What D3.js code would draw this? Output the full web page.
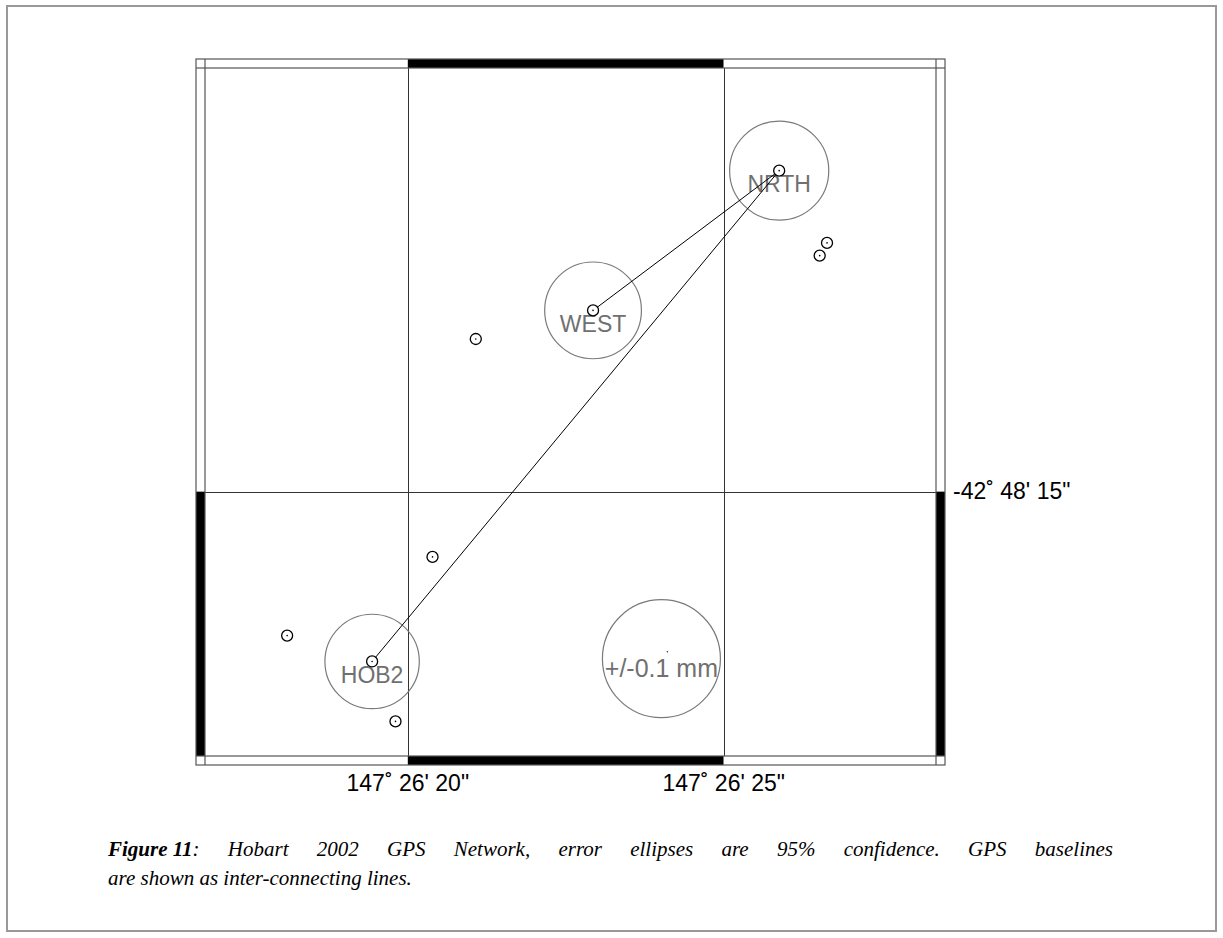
<!DOCTYPE html>
<html>
<head>
<meta charset="utf-8">
<script src="https://cdn.jsdelivr.net/npm/d3@7"></script>
<style>
  html, body { margin: 0; padding: 0; background: #fff; }
  svg { display: block; }
</style>
</head>
<body>
<svg id="fig" width="1223" height="938"></svg>
<script>
// Seconds of arc past 147°26' E (longitude) and past 42°48' S (latitude)
const lonDomain = [16.79, 28.36];
const latDomain = [10.08, 18.07];
const lonTicks = [20, 25];
const latTicks = [15];
const lonTickLabels = ["147˚ 26' 20\"", "147˚ 26' 25\""];
const latTickLabels = ["-42˚ 48' 15\""];

// Labelled stations with 95% error circle radius (mm)
const stationNames = ["NRTH", "WEST", "HOB2"];
const stationLon = [25.878, 22.932, 19.435];
const stationLat = [11.272, 12.895, 16.972];
const stationErr = [0.084, 0.082, 0.080];

// Other survey marks in the network
const markLon = [26.635, 26.519, 21.076, 20.391, 18.090, 19.805];
const markLat = [12.111, 12.259, 13.227, 15.758, 16.672, 17.668];

// GPS baselines between stations
const baselines = [["NRTH", "WEST"], ["NRTH", "HOB2"]];

// Scale ellipse
const scaleErr = 0.1;
const scaleLon = 24.014;
const scaleLat = 16.94;
const scaleLabel = "+/-0.1 mm";

const captionBold = "Figure\u00a011";
const captionLine1 = ": Hobart 2002 GPS Network, error ellipses are 95% confidence. GPS baselines";
const captionLine2 = "are shown as inter-connecting lines.";

const svg = d3.select("#fig");

// page border
svg.append("rect")
  .attr("x", 7).attr("y", 6).attr("width", 1209).attr("height", 925)
  .attr("fill", "none").attr("stroke", "#999").attr("stroke-width", 2);

const x = d3.scaleLinear().domain(lonDomain).range([205, 936]);
const y = d3.scaleLinear().domain(latDomain).range([68, 756]);
const r = d3.scaleLinear().domain([0, scaleErr]).range([0, 59]);
const band = 9;

const [x0, x1] = x.range();
const [y0, y1] = y.range();

// inner grid
const grid = svg.append("g").attr("stroke", "#333").attr("stroke-width", 1);
grid.selectAll("line.v").data(lonTicks).join("line")
  .attr("x1", d => Math.round(x(d)) + 0.5).attr("x2", d => Math.round(x(d)) + 0.5)
  .attr("y1", y0).attr("y2", y1);
grid.selectAll("line.h").data(latTicks).join("line")
  .attr("y1", d => Math.round(y(d)) + 0.5).attr("y2", d => Math.round(y(d)) + 0.5)
  .attr("x1", x0).attr("x2", x1);

// alternating frame segments, black on every other 5" interval
function segments(domain, ticks, blackParity) {
  const b = [domain[0], ...ticks.filter(t => t > domain[0] && t < domain[1]), domain[1]];
  const segs = [];
  for (let i = 0; i < b.length - 1; i++) {
    const mid = (b[i] + b[i + 1]) / 2;
    const idx = Math.floor(mid / 5);
    segs.push({ a: b[i], b: b[i + 1], black: idx % 2 === blackParity });
  }
  return segs;
}
const lonSegs = segments(lonDomain, lonTicks, 0);
const latSegs = segments(latDomain, latTicks, 1);

const frame = svg.append("g");
// top and bottom bands
[[y0 - band, y0], [y1, y1 + band]].forEach(([ya, yb]) => {
  frame.selectAll(null).data(lonSegs).join("rect")
    .attr("x", d => x(d.a)).attr("width", d => x(d.b) - x(d.a))
    .attr("y", ya).attr("height", yb - ya)
    .attr("fill", d => d.black ? "#000" : "#fff");
});
// left and right bands
[[x0 - band, x0], [x1, x1 + band]].forEach(([xa, xb]) => {
  frame.selectAll(null).data(latSegs).join("rect")
    .attr("y", d => y(d.a)).attr("height", d => y(d.b) - y(d.a))
    .attr("x", xa).attr("width", xb - xa)
    .attr("fill", d => d.black ? "#000" : "#fff");
});
// frame outlines
const fl = frame.append("g").attr("fill", "none").attr("stroke", "#555").attr("stroke-width", 1.2);
fl.append("rect").attr("x", x0).attr("y", y0).attr("width", x1 - x0).attr("height", y1 - y0);
fl.append("rect").attr("x", x0 - band).attr("y", y0 - band)
  .attr("width", x1 - x0 + 2 * band).attr("height", y1 - y0 + 2 * band);
// corner boxes
fl.append("line").attr("x1", x0).attr("x2", x0).attr("y1", y0 - band).attr("y2", y0);
fl.append("line").attr("x1", x1).attr("x2", x1).attr("y1", y0 - band).attr("y2", y0);
fl.append("line").attr("x1", x0).attr("x2", x0).attr("y1", y1).attr("y2", y1 + band);
fl.append("line").attr("x1", x1).attr("x2", x1).attr("y1", y1).attr("y2", y1 + band);
fl.append("line").attr("x1", x0 - band).attr("x2", x0).attr("y1", y0).attr("y2", y0);
fl.append("line").attr("x1", x1).attr("x2", x1 + band).attr("y1", y0).attr("y2", y0);
fl.append("line").attr("x1", x0 - band).attr("x2", x0).attr("y1", y1).attr("y2", y1);
fl.append("line").attr("x1", x1).attr("x2", x1 + band).attr("y1", y1).attr("y2", y1);

// tick labels
const tickFont = "Liberation Sans, Arial, sans-serif";
svg.append("g").selectAll("text").data(lonTicks).join("text")
  .attr("x", d => x(d)).attr("y", y1 + band + 26)
  .attr("text-anchor", "middle")
  .attr("font-family", tickFont).attr("font-size", 23)
  .text((d, i) => lonTickLabels[i]);
svg.append("g").selectAll("text").data(latTicks).join("text")
  .attr("x", x1 + band + 8).attr("y", d => y(d) + 7)
  .attr("font-family", tickFont).attr("font-size", 23)
  .text((d, i) => latTickLabels[i]);

// station lookup
const stations = stationNames.map((n, i) => ({
  name: n, lon: stationLon[i], lat: stationLat[i], err: stationErr[i]
}));
const byName = Object.fromEntries(stations.map(s => [s.name, s]));
const marks = markLon.map((lon, i) => ({ lon, lat: markLat[i] }));

// error circles
const ell = svg.append("g").attr("fill", "none").attr("stroke", "#7a7a7a").attr("stroke-width", 1.2);
ell.selectAll("ellipse").data(stations).join("ellipse")
  .attr("cx", d => x(d.lon)).attr("cy", d => y(d.lat))
  .attr("rx", d => r(d.err)).attr("ry", d => r(d.err));
ell.append("ellipse")
  .attr("cx", x(scaleLon)).attr("cy", y(scaleLat))
  .attr("rx", r(scaleErr)).attr("ry", r(scaleErr));
svg.append("circle").attr("cx", x(scaleLon) + 6).attr("cy", y(scaleLat) - 7)
  .attr("r", 0.8).attr("fill", "#333");

// station labels
const labelFont = "Liberation Sans, Arial, sans-serif";
svg.append("g").selectAll("text").data(stations).join("text")
  .attr("x", d => x(d.lon)).attr("y", d => y(d.lat) + 21.5)
  .attr("text-anchor", "middle")
  .attr("font-family", labelFont).attr("font-size", 23)
  .attr("fill", "#707070")
  .text(d => d.name);
svg.append("text")
  .attr("x", x(scaleLon)).attr("y", y(scaleLat) + 18)
  .attr("text-anchor", "middle")
  .attr("font-family", labelFont).attr("font-size", 25)
  .attr("fill", "#707070")
  .text(scaleLabel);

// baselines
svg.append("g").attr("stroke", "#000").attr("stroke-width", 1)
  .selectAll("line").data(baselines).join("line")
  .attr("x1", d => x(byName[d[0]].lon)).attr("y1", d => y(byName[d[0]].lat))
  .attr("x2", d => x(byName[d[1]].lon)).attr("y2", d => y(byName[d[1]].lat));

// survey marks
const pts = [...stations, ...marks];
const pg = svg.append("g");
pg.selectAll("circle.m").data(pts).join("circle")
  .attr("cx", d => x(d.lon)).attr("cy", d => y(d.lat)).attr("r", 5.5)
  .attr("fill", "#fff").attr("stroke", "#000").attr("stroke-width", 1.3);
pg.selectAll("circle.c").data(pts).join("circle")
  .attr("cx", d => x(d.lon)).attr("cy", d => y(d.lat)).attr("r", 0.8)
  .attr("fill", "#000");

// caption: first line justified across the text column, stretching only
// the ordinary spaces after the figure number
const capFont = "Liberation Serif, 'Times New Roman', serif";
const capLeft = 108, capRight = 1113;
const c1 = svg.append("text").attr("x", capLeft).attr("y", 856)
  .attr("font-family", capFont).attr("font-size", 21).attr("font-style", "italic");
c1.append("tspan").attr("font-weight", "bold").attr("word-spacing", 0).text(captionBold);
const body1 = c1.append("tspan").text(captionLine1);
const len = c1.node().getComputedTextLength();
const spaces = captionLine1.split(" ").length - 1;
body1.attr("word-spacing", (capRight - capLeft - len) / spaces);
svg.append("text").attr("x", capLeft).attr("y", 885)
  .attr("font-family", capFont).attr("font-size", 21).attr("font-style", "italic")
  .text(captionLine2);
</script>
</body>
</html>
